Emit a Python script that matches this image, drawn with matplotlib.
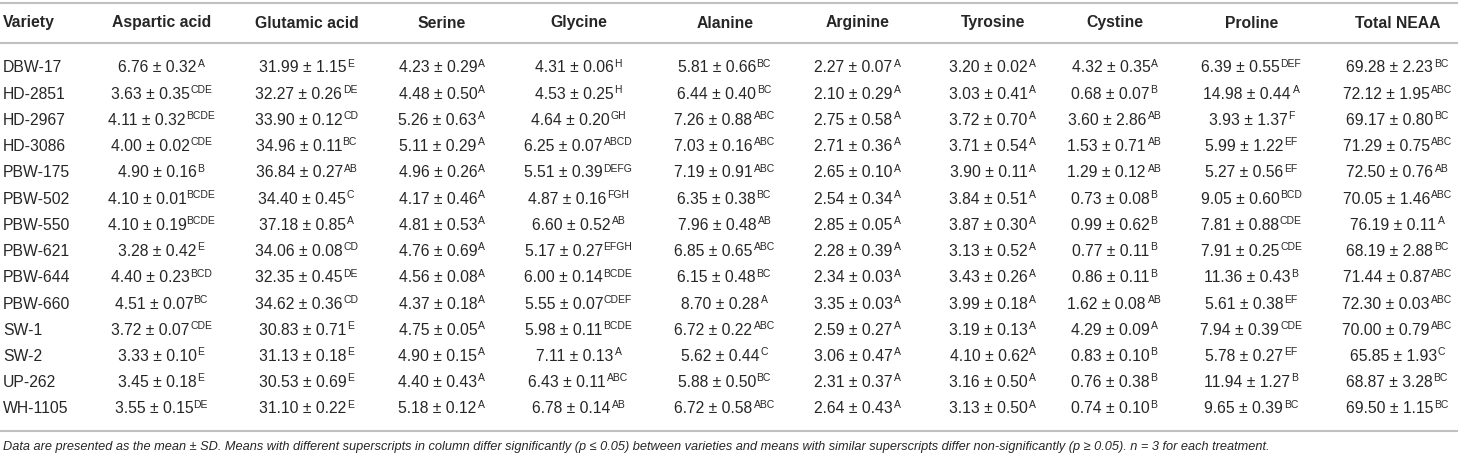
import matplotlib
matplotlib.use("Agg")
import matplotlib.pyplot as plt
from matplotlib.font_manager import findfont, FontProperties
from matplotlib import ft2font

plt.rcParams['font.family'] = ['Liberation Sans', 'DejaVu Sans']

columns = ["Variety", "Aspartic acid", "Glutamic acid", "Serine", "Glycine", "Alanine",
           "Arginine", "Tyrosine", "Cystine", "Proline", "Total NEAA"]

varieties = ["DBW-17", "HD-2851", "HD-2967", "HD-3086", "PBW-175", "PBW-502", "PBW-550",
             "PBW-621", "PBW-644", "PBW-660", "SW-1", "SW-2", "UP-262", "WH-1105"]

aspartic = [(6.76, 0.32, "A"), (3.63, 0.35, "CDE"), (4.11, 0.32, "BCDE"), (4.00, 0.02, "CDE"),
            (4.90, 0.16, "B"), (4.10, 0.01, "BCDE"), (4.10, 0.19, "BCDE"), (3.28, 0.42, "E"),
            (4.40, 0.23, "BCD"), (4.51, 0.07, "BC"), (3.72, 0.07, "CDE"), (3.33, 0.10, "E"),
            (3.45, 0.18, "E"), (3.55, 0.15, "DE")]
glutamic = [(31.99, 1.15, "E"), (32.27, 0.26, "DE"), (33.90, 0.12, "CD"), (34.96, 0.11, "BC"),
            (36.84, 0.27, "AB"), (34.40, 0.45, "C"), (37.18, 0.85, "A"), (34.06, 0.08, "CD"),
            (32.35, 0.45, "DE"), (34.62, 0.36, "CD"), (30.83, 0.71, "E"), (31.13, 0.18, "E"),
            (30.53, 0.69, "E"), (31.10, 0.22, "E")]
serine = [(4.23, 0.29, "A"), (4.48, 0.50, "A"), (5.26, 0.63, "A"), (5.11, 0.29, "A"),
          (4.96, 0.26, "A"), (4.17, 0.46, "A"), (4.81, 0.53, "A"), (4.76, 0.69, "A"),
          (4.56, 0.08, "A"), (4.37, 0.18, "A"), (4.75, 0.05, "A"), (4.90, 0.15, "A"),
          (4.40, 0.43, "A"), (5.18, 0.12, "A")]
glycine = [(4.31, 0.06, "H"), (4.53, 0.25, "H"), (4.64, 0.20, "GH"), (6.25, 0.07, "ABCD"),
           (5.51, 0.39, "DEFG"), (4.87, 0.16, "FGH"), (6.60, 0.52, "AB"), (5.17, 0.27, "EFGH"),
           (6.00, 0.14, "BCDE"), (5.55, 0.07, "CDEF"), (5.98, 0.11, "BCDE"), (7.11, 0.13, "A"),
           (6.43, 0.11, "ABC"), (6.78, 0.14, "AB")]
alanine = [(5.81, 0.66, "BC"), (6.44, 0.40, "BC"), (7.26, 0.88, "ABC"), (7.03, 0.16, "ABC"),
           (7.19, 0.91, "ABC"), (6.35, 0.38, "BC"), (7.96, 0.48, "AB"), (6.85, 0.65, "ABC"),
           (6.15, 0.48, "BC"), (8.70, 0.28, "A"), (6.72, 0.22, "ABC"), (5.62, 0.44, "C"),
           (5.88, 0.50, "BC"), (6.72, 0.58, "ABC")]
arginine = [(2.27, 0.07, "A"), (2.10, 0.29, "A"), (2.75, 0.58, "A"), (2.71, 0.36, "A"),
            (2.65, 0.10, "A"), (2.54, 0.34, "A"), (2.85, 0.05, "A"), (2.28, 0.39, "A"),
            (2.34, 0.03, "A"), (3.35, 0.03, "A"), (2.59, 0.27, "A"), (3.06, 0.47, "A"),
            (2.31, 0.37, "A"), (2.64, 0.43, "A")]
tyrosine = [(3.20, 0.02, "A"), (3.03, 0.41, "A"), (3.72, 0.70, "A"), (3.71, 0.54, "A"),
            (3.90, 0.11, "A"), (3.84, 0.51, "A"), (3.87, 0.30, "A"), (3.13, 0.52, "A"),
            (3.43, 0.26, "A"), (3.99, 0.18, "A"), (3.19, 0.13, "A"), (4.10, 0.62, "A"),
            (3.16, 0.50, "A"), (3.13, 0.50, "A")]
cystine = [(4.32, 0.35, "A"), (0.68, 0.07, "B"), (3.60, 2.86, "AB"), (1.53, 0.71, "AB"),
           (1.29, 0.12, "AB"), (0.73, 0.08, "B"), (0.99, 0.62, "B"), (0.77, 0.11, "B"),
           (0.86, 0.11, "B"), (1.62, 0.08, "AB"), (4.29, 0.09, "A"), (0.83, 0.10, "B"),
           (0.76, 0.38, "B"), (0.74, 0.10, "B")]
proline = [(6.39, 0.55, "DEF"), (14.98, 0.44, "A"), (3.93, 1.37, "F"), (5.99, 1.22, "EF"),
           (5.27, 0.56, "EF"), (9.05, 0.60, "BCD"), (7.81, 0.88, "CDE"), (7.91, 0.25, "CDE"),
           (11.36, 0.43, "B"), (5.61, 0.38, "EF"), (7.94, 0.39, "CDE"), (5.78, 0.27, "EF"),
           (11.94, 1.27, "B"), (9.65, 0.39, "BC")]
total_neaa = [(69.28, 2.23, "BC"), (72.12, 1.95, "ABC"), (69.17, 0.80, "BC"), (71.29, 0.75, "ABC"),
              (72.50, 0.76, "AB"), (70.05, 1.46, "ABC"), (76.19, 0.11, "A"), (68.19, 2.88, "BC"),
              (71.44, 0.87, "ABC"), (72.30, 0.03, "ABC"), (70.00, 0.79, "ABC"), (65.85, 1.93, "C"),
              (68.87, 3.28, "BC"), (69.50, 1.15, "BC")]

footnote = ("Data are presented as the mean \u00b1 SD. Means with different superscripts in column differ "
            "significantly (p \u2264 0.05) between varieties and means with similar superscripts differ "
            "non-significantly (p \u2265 0.05). n = 3 for each treatment.")

W, H = 1458, 458
DPI = 100
fig = plt.figure(figsize=(W / DPI, H / DPI), dpi=DPI)
ax = fig.add_axes([0, 0, 1, 1])
ax.set_xlim(0, W)
ax.set_ylim(H, 0)
ax.axis("off")

txt = "#262626"
line_c = "#c0c0c0"
fs = 11.3
fs_sup = 7.5

col_x = [3, 162, 307, 442, 579, 725, 858, 993, 1115, 1252, 1398]
header_y = 23
row0, dy = 67, 26.23

# plain FreeType font (no horizontal hinting factor) for left side bearings
_font = ft2font.FT2Font(findfont(FontProperties(family="Liberation Sans")), hinting_factor=1)
try:
    _NOH = ft2font.LoadFlags.NO_HINTING
except AttributeError:
    _NOH = ft2font.LOAD_NO_HINTING


def lsb(ch, size):
    _font.set_size(size, DPI)
    g = _font.load_char(ord(ch), flags=_NOH)
    return g.horiBearingX / 64.0


fig.canvas.draw()
r = fig.canvas.get_renderer()

# rules
for yl in (3, 43, 431):
    ax.plot([0, W], [yl, yl], color=line_c, lw=1.5, solid_capstyle="butt")

# header
for i, c in enumerate(columns):
    ax.text(col_x[i], header_y, c, ha="left" if i == 0 else "center", va="center",
            fontsize=fs, fontweight="bold", color=txt)

data_cols = [aspartic, glutamic, serine, glycine, alanine, arginine, tyrosine,
             cystine, proline, total_neaa]

gap = 0.6
for j, v in enumerate(varieties):
    y = row0 + j * dy
    base = y + 5.5
    ax.text(col_x[0], base, v, ha="left", va="baseline", fontsize=fs, color=txt)
    for k, col in enumerate(data_cols):
        m, s, sig = col[j]
        main = f"{m:.2f} \u00b1 {s:.2f}"
        t1 = ax.text(0, base, main, ha="left", va="baseline", fontsize=fs, color=txt)
        t2 = ax.text(0, base - 5.8, sig, ha="left", va="baseline", fontsize=fs_sup, color=txt)
        w1 = t1.get_window_extent(r).width   # ink width of value
        w2 = t2.get_window_extent(r).width   # ink width of letters
        total = w1 + gap + w2
        ink_left = col_x[k + 1] - total / 2
        t1.set_x(ink_left - lsb(main[0], fs))
        t2.set_x(ink_left + w1 + gap - lsb(sig[0], fs_sup))

ax.text(3, 447, footnote, ha="left", va="center", fontsize=9.15, style="italic", color=txt)

fig.savefig("out.png", dpi=DPI)
